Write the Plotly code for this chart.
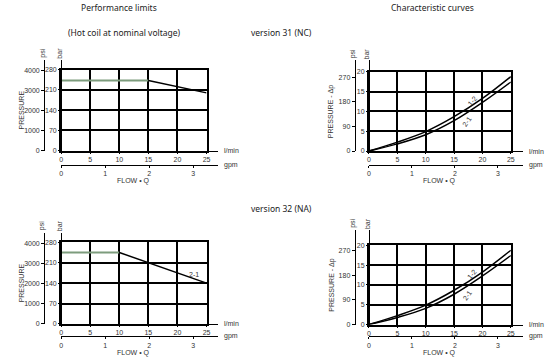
import plotly.graph_objects as go

W, H = 549, 362

# ---------------- data ----------------
flow_lpm_31 = [0, 15, 25]
p_bar_31 = [243, 243, 200]
flow_lpm_32 = [0, 10, 25]
p_bar_32 = [245, 245, 140]

curve_flow = [0, 5, 10, 15, 20, 25]
dp_12 = [0, 2.25, 4.9, 8.65, 13.25, 18.75]
dp_21 = [0, 1.8, 4.1, 7.65, 12.25, 17.4]

lpm_ticks = [0, 5, 10, 15, 20, 25]
gpm_ticks = [0, 1, 2, 3]
bar_ticks_perf = [0, 70, 140, 210, 280]
psi_ticks_perf = [0, 1000, 2000, 3000, 4000]
bar_ticks_char = [0, 5, 10, 15, 20]
psi_ticks_char = [0, 90, 180, 270]

BAR_TO_PSI = 14.5
LPM_PER_GPM = 7.57

TICKFONT = dict(family="Liberation Sans Narrow, Liberation Sans, Arial", size=7, color="#333")
TXTFONT = dict(family="Noto Sans, Open Sans, sans-serif", size=8.5, color="#222")
GREEN = "#7d9c7d"


def px(x):
    return x / W


def py(y):
    return 1 - y / H


fig = go.Figure()
layout = {}
annotations = []
counter = [0]


def ann(**kw):
    d = dict(showarrow=False, xanchor="center", yanchor="middle", font=TICKFONT)
    d.update(kw)
    annotations.append(d)


def new_ids():
    counter[0] += 1
    n = counter[0]
    return ("x" if n == 1 else f"x{n}"), ("y" if n == 1 else f"y{n}"), n


def panel(x0, x1, yt, yb, ymax, bar_ticks, psi_ticks, x_psi, y_axtop, x_end, y_gpm, ytitle):
    # grid axes
    xg, yg, ng = new_ids()
    kx = "xaxis" if ng == 1 else f"xaxis{ng}"
    ky = "yaxis" if ng == 1 else f"yaxis{ng}"
    layout[kx] = dict(domain=[px(x0), px(x1)], range=[0, 25], tickvals=lpm_ticks,
                      showgrid=True, gridcolor="black", gridwidth=1.5, showticklabels=False,
                      ticks="", showline=True, mirror=True, linecolor="black", linewidth=1.5,
                      zeroline=False, anchor=yg, fixedrange=True)
    layout[ky] = dict(domain=[py(yb), py(yt)], range=[0, ymax], tickvals=bar_ticks,
                      showgrid=True, gridcolor="black", gridwidth=1.5, showticklabels=False,
                      ticks="", showline=True, mirror=True, linecolor="black", linewidth=1.5,
                      zeroline=False, anchor=xg, fixedrange=True)
    # auxiliary axes
    xl, ybar, na = new_ids()
    ext = (yb - y_axtop) / (yb - yt)
    xext = (x_end - x0) / (x1 - x0)
    layout[f"xaxis{na}"] = dict(domain=[px(x0), px(x_end)], range=[0, 25 * xext], tickvals=lpm_ticks,
                                anchor="free", position=py(yb), showgrid=False, zeroline=False,
                                showline=True, linecolor="black", linewidth=1, ticks="outside",
                                ticklen=2, tickcolor="black", tickfont=TICKFONT, fixedrange=True)
    layout[f"yaxis{na}"] = dict(domain=[py(yb), py(y_axtop)], range=[0, ymax * ext], tickvals=bar_ticks,
                                anchor="free", position=px(x0), side="left", showgrid=False,
                                zeroline=False, showline=True, linecolor="black", linewidth=1,
                                ticks="outside", ticklen=3, tickcolor="black", tickfont=TICKFONT,
                                fixedrange=True)
    xgp, ypsi, nb = new_ids()
    layout[f"xaxis{nb}"] = dict(domain=[px(x0), px(x_end)], range=[0, 25 * xext / LPM_PER_GPM],
                                tickvals=gpm_ticks, anchor="free", position=py(y_gpm), showgrid=False,
                                zeroline=False, showline=True, linecolor="black", linewidth=1,
                                ticks="outside", ticklen=2, tickcolor="black", tickfont=TICKFONT,
                                fixedrange=True)
    layout[f"yaxis{nb}"] = dict(domain=[py(yb), py(y_axtop)], range=[0, ymax * ext * BAR_TO_PSI],
                                tickvals=psi_ticks, anchor="free", position=px(x_psi), side="left",
                                showgrid=False, zeroline=False, showline=True, linecolor="black",
                                linewidth=1, ticks="outside", ticklen=3, tickcolor="black",
                                tickfont=TICKFONT, fixedrange=True)
    for xa, ya in [(xl, ybar), (xgp, ypsi)]:
        fig.add_trace(go.Scatter(x=[0], y=[0], xaxis=xa, yaxis=ya, mode="markers",
                                 marker=dict(opacity=0), hoverinfo="skip", showlegend=False))
    # axis text labels
    ann(x=px(x_psi - 2), y=py(y_axtop - 7), xref="paper", yref="paper", text="psi", textangle=-90)
    ann(x=px(x0 - 2), y=py(y_axtop - 7), xref="paper", yref="paper", text="bar", textangle=-90)
    ann(x=px(x_end + 4), y=py(yb), xref="paper", yref="paper", xanchor="left", text="l/min")
    ann(x=px(x_end + 4), y=py(y_gpm), xref="paper", yref="paper", xanchor="left", text="gpm")
    ann(x=px((x0 + x1) / 2), y=py(y_gpm + 16.5), xref="paper", yref="paper", text="FLOW • Q")
    ann(x=px(x_psi - 23), y=py((yt + yb) / 2), xref="paper", yref="paper", text=ytitle, textangle=-90)
    return xg, yg


def perf_lines(xg, yg, flow, p):
    fig.add_trace(go.Scatter(x=flow[:2], y=p[:2], xaxis=xg, yaxis=yg, mode="lines",
                             line=dict(color=GREEN, width=2), showlegend=False, hoverinfo="skip"))
    fig.add_trace(go.Scatter(x=flow[1:], y=p[1:], xaxis=xg, yaxis=yg, mode="lines",
                             line=dict(color="black", width=1.5), showlegend=False, hoverinfo="skip"))


def char_lines(xg, yg):
    for d in (dp_12, dp_21):
        fig.add_trace(go.Scatter(x=curve_flow, y=d, xaxis=xg, yaxis=yg, mode="lines",
                                 line=dict(color="black", width=1.5, shape="spline"),
                                 showlegend=False, hoverinfo="skip"))
    ann(x=18.1, y=12.6, xref=xg, yref=yg, text="1-2", textangle=-50)
    ann(x=17.3, y=7.4, xref=xg, yref=yg, text="2-1", textangle=-55)


# top-left: performance limits v31
xg, yg = panel(59.3, 205.3, 70.3, 152, 280, bar_ticks_perf, psi_ticks_perf, 42.3, 61, 217, 166, "PRESSURE")
perf_lines(xg, yg, flow_lpm_31, p_bar_31)
# top-right: characteristic curves v31
xg, yg = panel(368.3, 510.7, 72.3, 152.3, 20, bar_ticks_char, psi_ticks_char, 354, 61, 523, 166, "PRESSURE - Δp")
char_lines(xg, yg)
# bottom-left: performance limits v32
xg, yg = panel(59.3, 205.3, 244.3, 326.7, 280, bar_ticks_perf, psi_ticks_perf, 42.3, 235, 217, 339.3, "PRESSURE")
perf_lines(xg, yg, flow_lpm_32, p_bar_32)
ann(x=22.9, y=168, xref=xg, yref=yg, text="2-1")
# bottom-right: characteristic curves v32
xg, yg = panel(368.3, 510.7, 247.3, 327.3, 20, bar_ticks_char, psi_ticks_char, 354, 232, 523, 339.3, "PRESSURE - Δp")
char_lines(xg, yg)

# titles
for txt, x, y in [("Performance limits", 117, 8), ("Characteristic curves", 432, 8),
                  ("(Hot coil at nominal voltage)", 123, 33), ("version 31 (NC)", 281, 33),
                  ("version 32 (NA)", 281, 210)]:
    ann(x=px(x), y=py(y), xref="paper", yref="paper", text=txt, font=TXTFONT)

fig.update_layout(**layout)
fig.update_layout(width=W, height=H, margin=dict(l=0, r=0, t=0, b=0),
                  paper_bgcolor="white", plot_bgcolor="rgba(0,0,0,0)",
                  annotations=annotations, showlegend=False)
fig.write_html("out.html", config={"displayModeBar": False},
               post_script="document.body.style.margin='0';document.body.style.padding='0';")
